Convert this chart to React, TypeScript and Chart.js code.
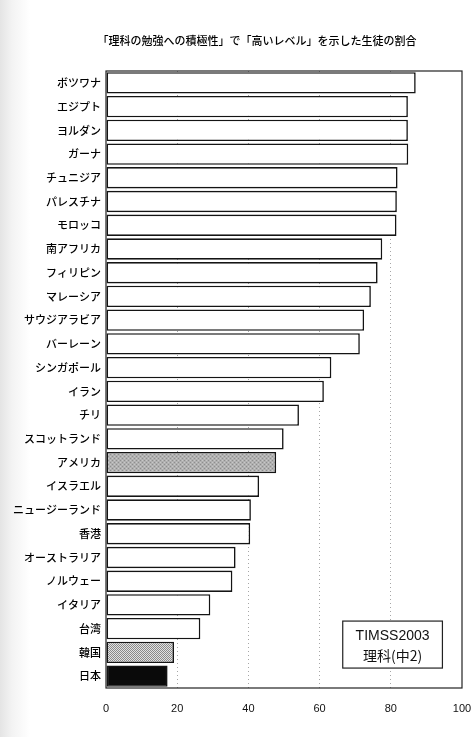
import React, { useEffect, useRef } from "react";
import { Chart, registerables } from "chart.js";

Chart.register(...registerables);

// Share of students showing a "high level" of engagement in science learning (TIMSS 2003, grade 8)
const countries = [
  "ボツワナ", "エジプト", "ヨルダン", "ガーナ", "チュニジア", "パレスチナ",
  "モロッコ", "南アフリカ", "フィリピン", "マレーシア", "サウジアラビア", "バーレーン",
  "シンガポール", "イラン", "チリ", "スコットランド", "アメリカ", "イスラエル",
  "ニュージーランド", "香港", "オーストラリア", "ノルウェー", "イタリア", "台湾",
  "韓国", "日本",
];
const shares = [
  87.0, 84.8, 84.8, 84.9, 81.9, 81.7,
  81.6, 77.6, 76.3, 74.4, 72.5, 71.3,
  63.3, 61.2, 54.2, 49.9, 47.8, 43.0,
  40.7, 40.5, 36.4, 35.5, 29.3, 26.5,
  19.1, 17.3,
];
const xTicks = [0, 20, 40, 60, 80, 100];

const titleText = "「理科の勉強への積極性」で「高いレベル」を示した生徒の割合";
const noteLines = ["TIMSS2003", "理科(中2)"];

const JP_FONT = "'Noto Sans CJK JP', 'Noto Sans', sans-serif";
const LATIN_FONT = "'Liberation Sans', Arial, sans-serif";

function makePattern(kind: "stipple" | "checker"): CanvasPattern | string {
  const c = document.createElement("canvas");
  c.width = 4;
  c.height = 4;
  const g = c.getContext("2d");
  if (!g) return "#aaa";
  if (kind === "stipple") {
    g.fillStyle = "#b0b0b0";
    g.fillRect(0, 0, 4, 4);
    g.fillStyle = "#8e8e8e";
    g.fillRect(0, 0, 1, 1);
    g.fillRect(2, 2, 1, 1);
    g.fillStyle = "#c8c8c8";
    g.fillRect(2, 0, 1, 1);
    g.fillRect(0, 2, 1, 1);
  } else {
    for (let y = 0; y < 4; y++) {
      for (let x = 0; x < 4; x++) {
        g.fillStyle = (x + y) % 2 === 0 ? "#8a8a8a" : "#e2e2e2";
        g.fillRect(x, y, 1, 1);
      }
    }
  }
  const ctx = document.createElement("canvas").getContext("2d");
  return ctx?.createPattern(c, "repeat") ?? "#aaa";
}

// Title, plot frame and the survey note box
const decorations = {
  id: "decorations",
  afterDatasetsDraw(chart: any) {
    const { ctx, chartArea } = chart;
    const { left, right, top, bottom } = chartArea;
    ctx.save();
    // frame around the plot
    ctx.strokeStyle = "#222";
    ctx.lineWidth = 1.2;
    ctx.strokeRect(left, top, right - left, bottom - top);

    // title
    ctx.fillStyle = "#000";
    ctx.font = `500 11px ${JP_FONT}`;
    ctx.textAlign = "center";
    ctx.textBaseline = "middle";
    ctx.fillText(titleText, left + (right - left) * 0.424, top - 30);

    // note box in the lower right
    const x = chart.scales.x;
    const y = chart.scales.y;
    const bx0 = x.getPixelForValue(66.5);
    const bx1 = x.getPixelForValue(94.5);
    const by0 = y.getPixelForValue(22.68);
    const by1 = y.getPixelForValue(24.66);
    ctx.fillStyle = "#fff";
    ctx.fillRect(bx0, by0, bx1 - bx0, by1 - by0);
    ctx.lineWidth = 1.2;
    ctx.strokeRect(bx0, by0, bx1 - bx0, by1 - by0);
    ctx.fillStyle = "#111";
    const cx = (bx0 + bx1) / 2;
    ctx.font = `14px ${LATIN_FONT}`;
    ctx.fillText(noteLines[0], cx, by0 + 15);
    ctx.font = `14px ${JP_FONT}`;
    ctx.fillText(noteLines[1], cx, by0 + 35);
    ctx.restore();
  },
};

export default function App() {
  const ref = useRef<HTMLCanvasElement | null>(null);

  useEffect(() => {
    if (!ref.current) return;
    const fills = countries.map((name) =>
      name === "日本" ? "#0a0a0a" : name === "韓国" ? makePattern("checker") : name === "アメリカ" ? makePattern("stipple") : "#ffffff"
    );
    const chart = new Chart(ref.current, {
      type: "bar",
      data: {
        labels: countries,
        datasets: [
          {
            data: shares,
            backgroundColor: fills as any,
            borderColor: "#141414",
            borderWidth: 1.6,
            borderSkipped: false,
            barPercentage: 0.9,
            categoryPercentage: 1,
          },
        ],
      },
      options: {
        indexAxis: "y",
        responsive: false,
        animation: false,
        layout: { padding: { top: 71, right: 9, left: 0, bottom: 0 } },
        plugins: {
          legend: { display: false },
          title: { display: false },
          tooltip: { enabled: false },
        },
        scales: {
          x: {
            min: 0,
            max: 100,
            afterBuildTicks(scale: any) {
              scale.ticks = xTicks.map((v) => ({ value: v }));
            },
            afterFit(scale: any) {
              scale.height = 49;
              scale.paddingLeft = 0;
              scale.paddingRight = 0;
            },
            // dotted vertical guides
            border: { display: false, dash: [1, 3] },
            grid: {
              drawTicks: false,
              lineWidth: 1,
              color: (c: any) => (c.tick && (c.tick.value === 0 || c.tick.value === 100) ? "rgba(0,0,0,0)" : "#a6a6a6"),
            },
            ticks: {
              padding: 14,
              color: "#111",
              font: { family: LATIN_FONT, size: 11 },
              maxRotation: 0,
            },
          },
          y: {
            afterFit(scale: any) {
              scale.width = 106;
            },
            border: { display: false },
            grid: { display: false, drawTicks: false },
            ticks: {
              padding: 5,
              color: "#000",
              autoSkip: false,
              font: { family: JP_FONT, size: 11, weight: 500 as any },
            },
          },
        },
      },
      plugins: [decorations],
    });
    return () => chart.destroy();
  }, []);

  return (
    <div
      style={{
        position: "absolute",
        left: 0,
        top: 0,
        width: 471,
        height: 737,
        background: "linear-gradient(to right, #e4e4e4 0px, #f3f3f3 12px, #ffffff 30px)",
      }}
    >
      <canvas ref={ref} width={471} height={737} />
    </div>
  );
}
